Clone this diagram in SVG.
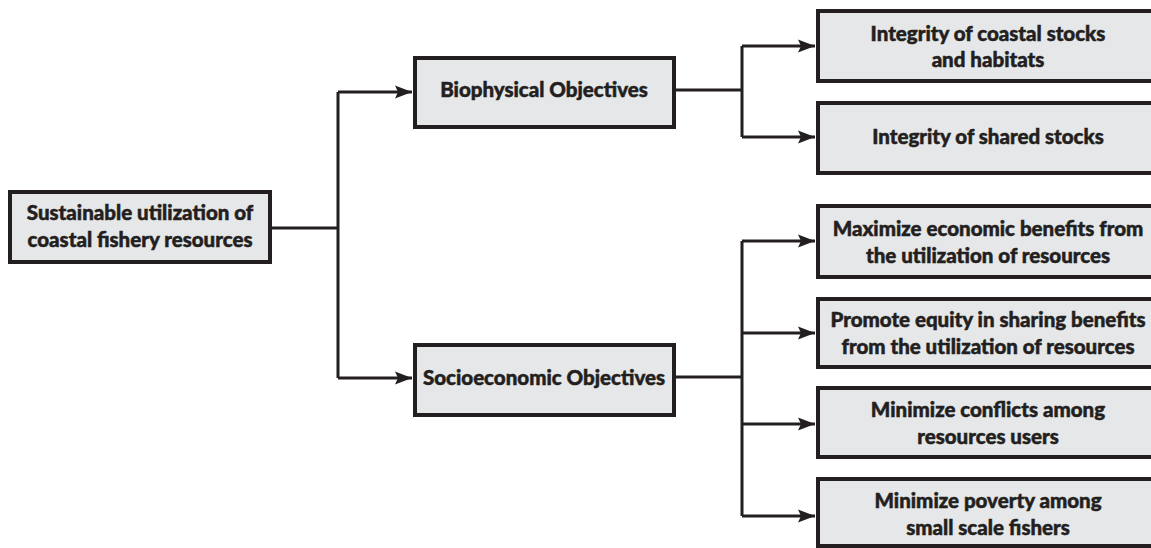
<svg xmlns="http://www.w3.org/2000/svg" width="1151" height="548" viewBox="0 0 1151 548">
<style>
.box{fill:#e6e7e8;stroke:#231f20;stroke-width:4}
.t{font-family:Lato,"Open Sans","Liberation Sans",sans-serif;font-weight:900;font-size:20.5px;fill:#231f20;stroke:#231f20;stroke-width:0.5;text-anchor:middle}
.c{fill:none;stroke:#231f20;stroke-width:3}
</style>
<defs>
<marker id="ah" markerUnits="userSpaceOnUse" markerWidth="18" markerHeight="14" refX="17" refY="7" orient="auto">
<path d="M0,0.5 L17,7 L0,13.5 L3,7 z" fill="#231f20"/>
</marker>
</defs>
<rect width="1151" height="548" fill="#fff"/>
<g id="connectors">
<path class="c" d="M272,228 H338 M338,92 V378"/>
<path class="c" d="M338,92 H412" marker-end="url(#ah)"/>
<path class="c" d="M338,378 H412" marker-end="url(#ah)"/>
<path class="c" d="M676,90 H742 M742,46 V137"/>
<path class="c" d="M742,46 H815" marker-end="url(#ah)"/>
<path class="c" d="M742,137 H815" marker-end="url(#ah)"/>
<path class="c" d="M676,377 H742 M742,241 V516"/>
<path class="c" d="M742,241 H815" marker-end="url(#ah)"/>
<path class="c" d="M742,333 H815" marker-end="url(#ah)"/>
<path class="c" d="M742,424 H815" marker-end="url(#ah)"/>
<path class="c" d="M742,516 H815" marker-end="url(#ah)"/>
</g>
<g id="root">
<rect class="box" x="10" y="192" width="260" height="70"/>
<text class="t" x="140" y="220">Sustainable utilization of</text>
<text class="t" x="140" y="247">coastal fishery resources</text>
</g>
<g id="bio">
<rect class="box" x="415" y="58" width="259" height="69"/>
<text class="t" x="544" y="97">Biophysical Objectives</text>
</g>
<g id="socio">
<rect class="box" x="415" y="345" width="259" height="70"/>
<text class="t" x="544" y="385">Socioeconomic Objectives</text>
</g>
<g id="r1">
<rect class="box" x="818" y="11" width="360" height="70"/>
<text class="t" x="988" y="41">Integrity of coastal stocks</text>
<text class="t" x="988" y="67">and habitats</text>
</g>
<g id="r2">
<rect class="box" x="818" y="103" width="360" height="70"/>
<text class="t" x="988" y="144">Integrity of shared stocks</text>
</g>
<g id="r3">
<rect class="box" x="818" y="206" width="360" height="71"/>
<text class="t" x="988" y="236">Maximize economic benefits from</text>
<text class="t" x="988" y="263">the utilization of resources</text>
</g>
<g id="r4">
<rect class="box" x="818" y="299" width="360" height="68"/>
<text class="t" x="988" y="327">Promote equity in sharing benefits</text>
<text class="t" x="988" y="354">from the utilization of resources</text>
</g>
<g id="r5">
<rect class="box" x="818" y="388" width="360" height="69"/>
<text class="t" x="988" y="417">Minimize conflicts among</text>
<text class="t" x="988" y="444">resources users</text>
</g>
<g id="r6">
<rect class="box" x="818" y="479" width="360" height="67"/>
<text class="t" x="988" y="508">Minimize poverty among</text>
<text class="t" x="988" y="535">small scale fishers</text>
</g>
</svg>
